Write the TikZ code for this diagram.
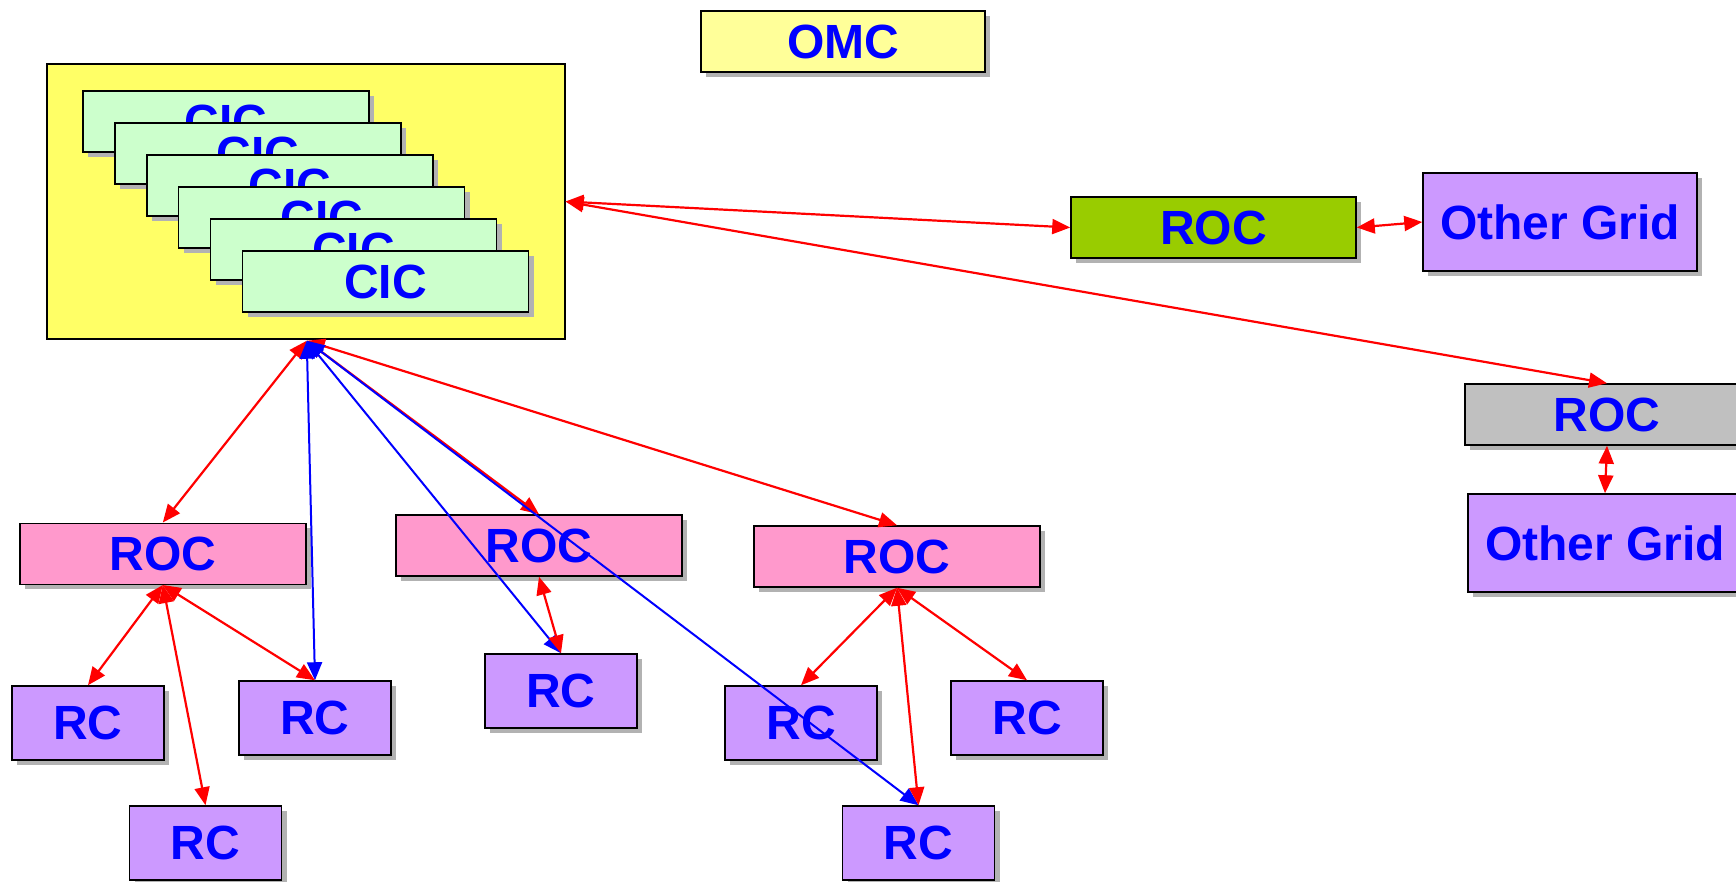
\documentclass[tikz,border=0pt]{standalone}
\usepackage{fontspec}
\setmainfont{Liberation Sans}
\usetikzlibrary{arrows.meta}
\usetikzlibrary{shadows}
\usetikzlibrary{calc}

\definecolor{cicyellow}{HTML}{FFFF66}
\definecolor{omcyellow}{HTML}{FFFF99}
\definecolor{cicgreen}{HTML}{CCFFCC}
\definecolor{rocgreen}{HTML}{99CC00}
\definecolor{rocpink}{HTML}{FF99CC}
\definecolor{rocgrey}{HTML}{C0C0C0}
\definecolor{rclilac}{HTML}{CC99FF}
\definecolor{shadowgrey}{HTML}{B2B2B2}
\definecolor{labelblue}{HTML}{0000FF}

\tikzset{
  unitbox/.style={draw=black, line width=1.5pt, inner sep=0pt, text=labelblue,
    font=\fontsize{48}{54}\selectfont\bfseries,
    drop shadow={shadow xshift=5pt, shadow yshift=-5pt, fill=shadowgrey, opacity=1}},
  rocbox/.style={unitbox, minimum width=286pt, minimum height=61pt},
  rcbox/.style={unitbox, fill=rclilac, minimum width=152pt, minimum height=74pt},
  gridbox/.style={unitbox, fill=rclilac, minimum width=274pt, minimum height=98pt},
  link/.style={{Triangle[length=18pt,width=15pt]}-{Triangle[length=18pt,width=15pt]}, line width=2.2pt, red},
  bluelink/.style={link, blue, line width=2pt}
}

\begin{document}
\begin{tikzpicture}[x=1pt,y=-1pt]
	\useasboundingbox (0,0) rectangle (1736,882);

	% operations centre
	\node[unitbox, fill=omcyellow, minimum width=284pt, minimum height=61pt] (omc) at (843,41.5) {OMC};

	% frame holding the stack of CICs
	\node[draw=black, line width=1.5pt, fill=cicyellow, inner sep=0pt, minimum width=518pt, minimum height=275pt] (cicbox) at (305.75,201.5) {};
	\foreach \i in {0,...,5}
		{\node[rocbox, fill=cicgreen] (cic\i) at ({226+31.9*\i},{121.5+32*\i}) {CIC};}
	\coordinate (hub) at ($(cicbox.south)+(1,1)$);

	% ROCs and other grids on the right
	\node[rocbox, fill=rocgreen, minimum width=285pt] (roca) at (1213.5,227.5) {ROC};
	\node[gridbox] (grida) at (1560,222) {Other Grid};
	\node[rocbox, fill=rocgrey, minimum width=284pt] (rocb) at (1607,414.5) {ROC};
	\node[gridbox] (gridb) at (1605,543) {Other Grid};

	% regional ROCs
	\node[rocbox, fill=rocpink] (roc1) at (162.8,553.8) {ROC};
	\node[rocbox, fill=rocpink] (roc2) at (539,545.5) {ROC};
	\node[rocbox, fill=rocpink] (roc3) at (897,556.5) {ROC};

	% RCs
	\node[rcbox] (rc1) at (88,723) {RC};
	\node[rcbox] (rc2) at (315,718) {RC};
	\node[rcbox] (rc3) at (205.5,843) {RC};
	\node[rcbox] (rc4) at (561,691) {RC};
	\node[rcbox] (rc5) at (801,723) {RC};
	\node[rcbox] (rc6) at (1027,718) {RC};
	\node[rcbox] (rc7) at (918.5,843) {RC};

	% links
	\draw[link] (cicbox.east) -- (roca.west);
	\draw[link] (cicbox.east) -- (rocb.north);
	\draw[link] (roca.east) -- (grida.west);
	\draw[link] (rocb.south) -- (gridb.north);
	\draw[link] (hub) -- (roc1.north);
	\draw[link] (hub) -- (roc2.north);
	\draw[link] (hub) -- (roc3.north);
	\draw[bluelink] (hub) -- (rc2.north);
	\draw[bluelink] (hub) -- (rc4.north);
	\draw[bluelink] (hub) -- (rc7.north);
	\draw[link] (roc1.south) -- (rc1.north);
	\draw[link] (roc1.south) -- (rc3.north);
	\draw[link] (roc1.south) -- (rc2.north);
	\draw[link] (roc2.south) -- (rc4.north);
	\draw[link] (roc3.south) -- (rc5.north);
	\draw[link] (roc3.south) -- (rc7.north);
	\draw[link] (roc3.south) -- (rc6.north);
\end{tikzpicture}
\end{document}
